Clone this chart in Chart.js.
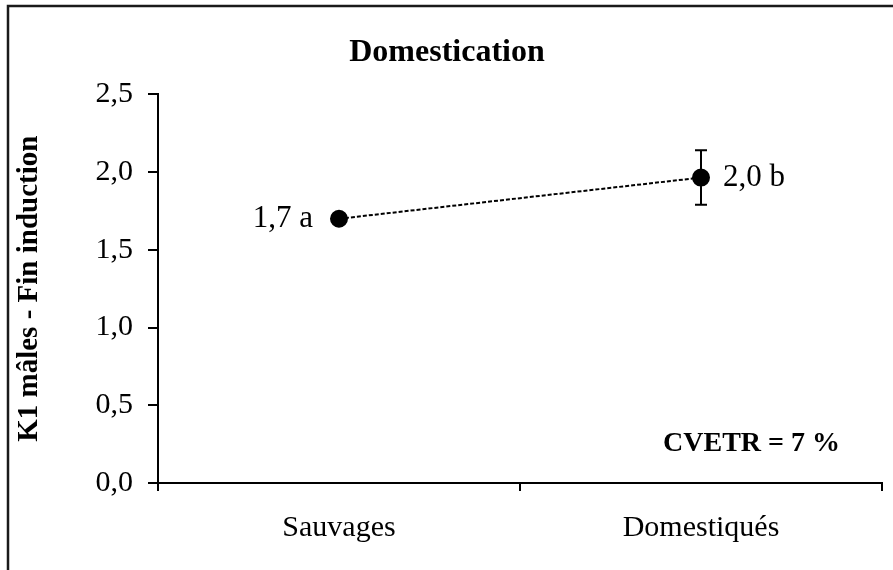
<!DOCTYPE html>
<html>
<head>
<meta charset="utf-8">
<script src="https://cdn.jsdelivr.net/npm/chart.js@4.4.1/dist/chart.umd.min.js"></script>
<style>
  body { margin: 0; background: #fff; }
  canvas { display: block; }
</style>
</head>
<body>
<canvas id="myChart" width="893" height="570"></canvas>
<script>
// valeurs
const categories = ['Sauvages', 'Domestiqués'];
const moyennes = [1.70, 1.965];
const erreurs = [0, 0.175];
const etiquettes = ['1,7 a', '2,0 b'];
const cotes = ['left', 'right'];
const noteCV = 'CVETR = 7 %';

const serif = "'Liberation Serif', 'Times New Roman', serif";

const cadre = {
    id: 'cadre',
    beforeDraw(chart) {
        const ctx = chart.ctx;
        ctx.save();
        ctx.fillStyle = '#fff';
        ctx.fillRect(0, 0, chart.width, chart.height);
        ctx.strokeStyle = '#1a1a1a';
        ctx.lineWidth = 2.5;
        ctx.beginPath();
        ctx.moveTo(8, chart.height);
        ctx.lineTo(8, 6);
        ctx.lineTo(chart.width, 6);
        ctx.stroke();
        ctx.restore();
    }
};

const barresErreur = {
    id: 'barresErreur',
    afterDatasetsDraw(chart) {
        const ctx = chart.ctx;
        const y = chart.scales.y;
        const meta = chart.getDatasetMeta(0);
        ctx.save();
        ctx.strokeStyle = '#000';
        ctx.lineWidth = 2;
        meta.data.forEach((pt, i) => {
            if (!erreurs[i]) return;
            const haut = y.getPixelForValue(moyennes[i] + erreurs[i]);
            const bas = y.getPixelForValue(moyennes[i] - erreurs[i]);
            ctx.beginPath();
            ctx.moveTo(pt.x, haut); ctx.lineTo(pt.x, bas);
            ctx.moveTo(pt.x - 6, haut); ctx.lineTo(pt.x + 6, haut);
            ctx.moveTo(pt.x - 6, bas); ctx.lineTo(pt.x + 6, bas);
            ctx.stroke();
        });
        // étiquettes des points
        ctx.fillStyle = '#000';
        ctx.font = '31px ' + serif;
        ctx.textBaseline = 'middle';
        meta.data.forEach((pt, i) => {
            if (cotes[i] === 'left') {
                ctx.textAlign = 'right';
                ctx.fillText(etiquettes[i], pt.x - 26, pt.y);
            } else {
                ctx.textAlign = 'left';
                ctx.fillText(etiquettes[i], pt.x + 22, pt.y);
            }
        });
        // note CVETR
        ctx.font = 'bold 28px ' + serif;
        ctx.textAlign = 'right';
        ctx.fillText(noteCV, chart.chartArea.right - 42, y.getPixelForValue(0.25));
        ctx.restore();
    }
};

new Chart(document.getElementById('myChart'), {
    type: 'line',
    data: {
        labels: categories,
        datasets: [{
            data: moyennes,
            borderColor: '#000',
            borderWidth: 2,
            borderDash: [4, 2],
            pointRadius: 8,
            pointBackgroundColor: '#000',
            pointBorderColor: '#000',
            fill: false,
            tension: 0
        }]
    },
    options: {
        responsive: false,
        animation: false,
        layout: { padding: { left: 12, right: 11, top: 0, bottom: 0 } },
        plugins: {
            legend: { display: false },
            tooltip: { enabled: false },
            title: {
                display: true,
                text: 'Domestication',
                color: '#000',
                font: { family: serif, size: 32, weight: 'bold' },
                padding: { top: 34, bottom: 22 }
            }
        },
        scales: {
            x: {
                offset: true,
                grid: { offset: true, drawOnChartArea: false, drawTicks: true, tickLength: 8, color: '#000', lineWidth: 2 },
                border: { color: '#000', width: 2 },
                ticks: { color: '#000', font: { family: serif, size: 30 }, padding: 19 },
                afterFit(scale) { scale.height = 87; }
            },
            y: {
                min: 0,
                max: 2.5,
                grid: { drawOnChartArea: false, drawTicks: true, tickLength: 10, color: '#000', lineWidth: 2 },
                border: { color: '#000', width: 2 },
                ticks: {
                    stepSize: 0.5,
                    color: '#000',
                    padding: 15,
                    font: { family: serif, size: 30 },
                    callback: v => v.toFixed(1).replace('.', ',')
                },
                title: {
                    display: true,
                    text: 'K1 mâles - Fin induction',
                    color: '#000',
                    font: { family: serif, size: 29, weight: 'bold' },
                    padding: { top: 0, bottom: 0 }
                },
                afterFit(scale) { scale.width = 146; }
            }
        }
    },
    plugins: [cadre, barresErreur]
});
</script>
</body>
</html>
